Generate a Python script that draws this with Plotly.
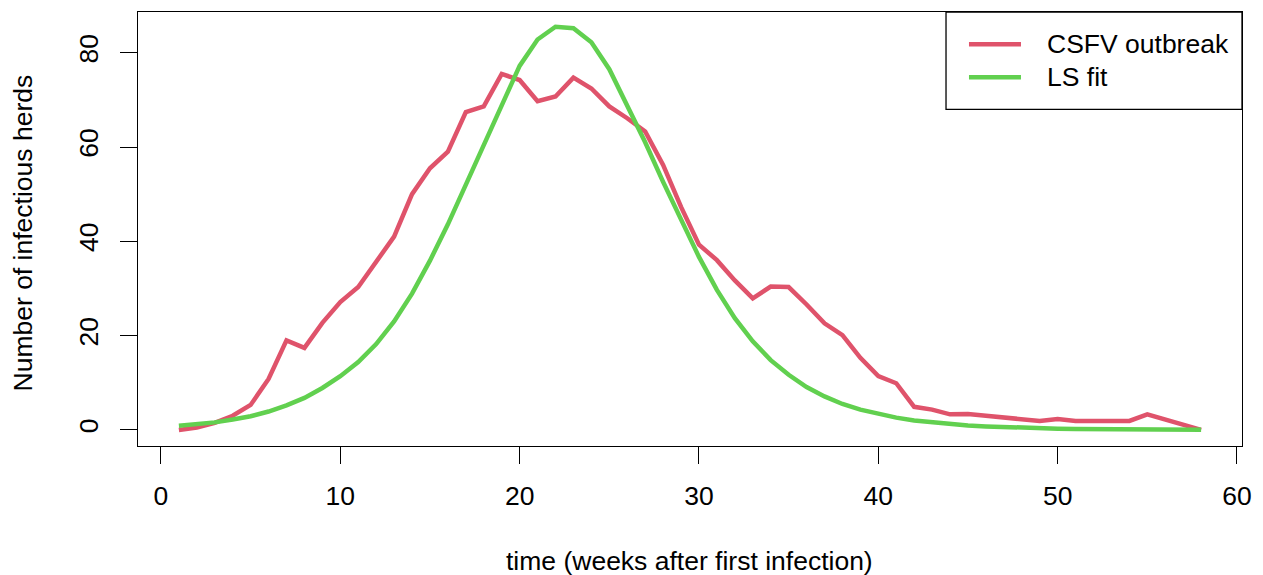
import plotly.graph_objects as go

weeks = list(range(1, 59))
csfv_outbreak = [0.0, 0.5, 1.5, 3.0, 5.3, 10.8, 19.0, 17.4, 22.7, 27.1,
                 30.3, 35.7, 41.0, 50.0, 55.5, 59.0, 67.4, 68.6, 75.5, 74.2,
                 69.7, 70.7, 74.7, 72.4, 68.6, 66.1, 63.3, 56.2, 47.3, 39.3,
                 36.0, 31.7, 27.9, 30.4, 30.3, 26.6, 22.6, 20.1, 15.3, 11.4,
                 9.9, 4.9, 4.3, 3.3, 3.4, 3.0, 2.6, 2.4, 1.9, 2.3,
                 1.9, 1.9, 1.9, 1.9, 3.3, 2.2, 1.0, 0.0]
ls_fit = [0.9, 1.2, 1.6, 2.2, 2.9, 3.9, 5.2, 6.8, 8.9, 11.4,
          14.4, 18.2, 23.0, 28.9, 35.9, 43.6, 52.0, 60.6, 69.3, 77.2,
          82.8, 85.5, 85.2, 82.2, 76.5, 68.8, 61.0, 52.6, 44.4, 36.7,
          29.7, 23.7, 18.8, 14.8, 11.7, 9.1, 7.1, 5.5, 4.3, 3.4,
          2.6, 2.0, 1.6, 1.2, 0.95, 0.75, 0.58, 0.45, 0.35, 0.27,
          0.21, 0.16, 0.13, 0.10, 0.08, 0.06, 0.05, 0.04]
series_names = ["CSFV outbreak", "LS fit"]
series_colors = ["#DF536B", "#61D04F"]
x_ticks = [0, 10, 20, 30, 40, 50, 60]
y_ticks = [0, 20, 40, 60, 80]

FONT = "Liberation Sans, Arial, Helvetica, sans-serif"
FS = 26.5

fig = go.Figure()
for name, ys, col in zip(series_names, [csfv_outbreak, ls_fit], series_colors):
    fig.add_trace(go.Scatter(x=weeks, y=ys, mode="lines", name=name,
                             line=dict(color=col, width=4.5),
                             showlegend=False))

axis_common = dict(showgrid=False, zeroline=False, showline=True, mirror=True,
                   linecolor="black", linewidth=1.3, ticks="outside",
                   ticklen=17, tickwidth=1.3, tickcolor="black",
                   tickfont=dict(family=FONT, size=FS, color="black"))

fig.update_layout(
    width=1263, height=575,
    margin=dict(l=138, r=21, t=12, b=129),
    paper_bgcolor="white", plot_bgcolor="white",
    font=dict(family=FONT, size=FS, color="black"),
    xaxis=dict(range=[-1.28, 60.28], tickvals=x_ticks,
               ticktext=[str(v) for v in x_ticks], ticklabelstandoff=9,
               **axis_common),
    yaxis=dict(range=[-3.41, 88.63], tickvals=y_ticks,
               ticktext=[str(v) for v in y_ticks], tickangle=-90,
               ticklabelstandoff=11, **axis_common),
)

# axis titles
fig.add_annotation(text="time (weeks after first infection)", xref="paper", yref="paper",
                   x=0.4995, y=(446 - 560.5) / 434, xanchor="center", yanchor="middle",
                   showarrow=False, font=dict(family=FONT, size=FS, color="black"))
fig.add_annotation(text="Number of infectious herds", xref="paper", yref="paper",
                   x=-0.1042, y=0.4919, xanchor="center", yanchor="middle", textangle=-90,
                   showarrow=False, font=dict(family=FONT, size=FS, color="black"))

# legend box (drawn like R's legend())
fig.add_shape(type="rect", xref="paper", yref="paper", x0=0.7319, x1=1.0, y0=0.7758, y1=1.0,
              line=dict(color="black", width=1.3), fillcolor="white", layer="above")
rows_y = [0.9256, 0.8495]
for name, col, yy in zip(series_names, series_colors, rows_y):
    fig.add_shape(type="line", xref="paper", yref="paper", x0=0.7527, x1=0.7998, y0=yy, y1=yy,
                  line=dict(color=col, width=4.5), layer="above")
    fig.add_annotation(text=name, xref="paper", yref="paper", x=0.8216, y=yy,
                       xanchor="left", yanchor="middle", showarrow=False,
                       font=dict(family=FONT, size=FS, color="black"))

fig.write_html("out.html")
